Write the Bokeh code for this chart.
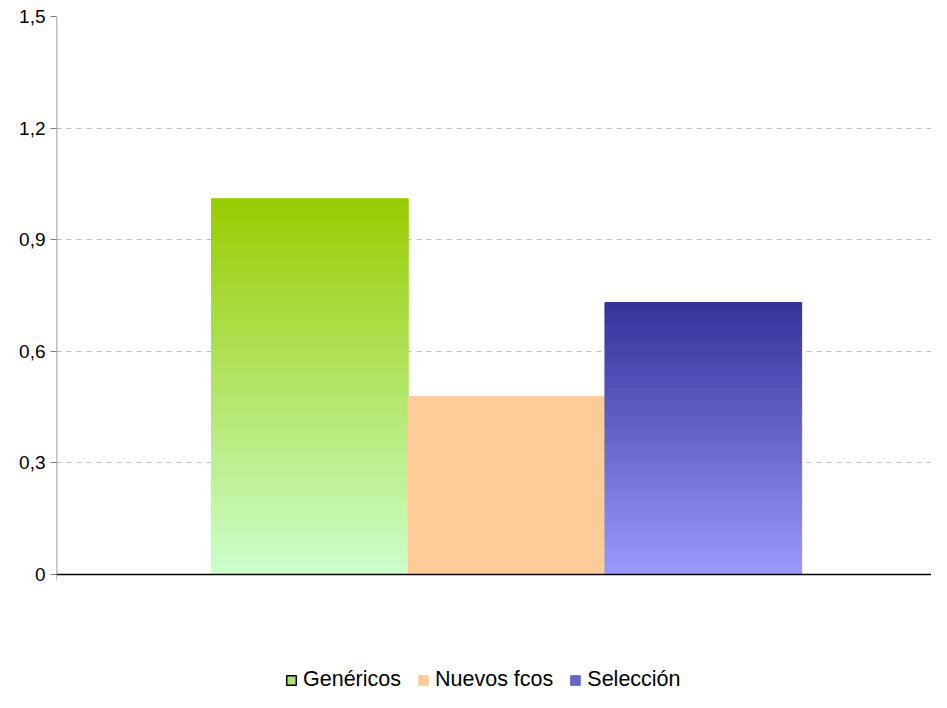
from bokeh.plotting import figure
from bokeh.models import (Range1d, FixedTicker, CustomJSTickFormatter, Legend, LegendItem,
                          ColumnDataSource)
from bokeh.embed import file_html
from bokeh.resources import INLINE

# ---- data ----
categories = ["Genéricos", "Nuevos fcos", "Selección"]
values = [1.01, 0.478, 0.731]
top_colors = ["#99CC00", "#FFCC99", "#333399"]
bottom_colors = ["#CCFFCC", "#FFCC99", "#9999FF"]
legend_swatch = ["#B0E070", "#FFCC99", "#6666CC"]
legend_lines = ["#000000", None, None]
y_ticks = [0, 0.3, 0.6, 0.9, 1.2, 1.5]
y_max = 1.5

# ---- layout (pixels) ----
W, H = 931, 692
top_px, zero_px = 16, 574          # where y_max and 0 sit
px_per_unit = (zero_px - top_px) / y_max
y_min = -(H - zero_px) / px_per_unit   # frame extends down to hold the legend
x_start, x_end = -2.288, 2.16

p = figure(width=W, height=H, output_backend="svg", toolbar_location=None,
           x_range=Range1d(x_start, x_end), y_range=Range1d(y_min, y_max),
           min_border_left=56, min_border_right=0, min_border_top=top_px, min_border_bottom=0)
p.outline_line_color = None
p.background_fill_color = "white"
p.border_fill_color = "white"

def hex2rgb(h):
    h = h.lstrip("#")
    return tuple(int(h[i:i + 2], 16) for i in (0, 2, 4))

def rgb2hex(c):
    return "#%02x%02x%02x" % tuple(int(round(v)) for v in c)

N = 80
L, R, B, T, C = [], [], [], [], []
for i, (v, ct, cb) in enumerate(zip(values, top_colors, bottom_colors)):
    center = i - 1
    a, b = hex2rgb(ct), hex2rgb(cb)
    for k in range(N):
        y0 = v * k / N
        y1 = v * (k + 1) / N
        t = (k + 0.5) / N  # 0 bottom -> 1 top
        col = tuple(b[j] + (a[j] - b[j]) * t for j in range(3))
        L.append(center - 0.5)
        R.append(center + 0.5)
        B.append(y0)
        T.append(y1)
        C.append(rgb2hex(col))

src = ColumnDataSource(dict(left=L, right=R, bottom=B, top=T, color=C))
p.quad(left="left", right="right", bottom="bottom", top="top", source=src,
       fill_color="color", line_color="color", line_width=1)

# y axis (line drawn separately so it stops at 0)
p.yaxis.ticker = FixedTicker(ticks=y_ticks)
p.yaxis.formatter = CustomJSTickFormatter(code="return tick == 0 ? '0' : tick.toFixed(1).replace('.', ',');")
p.yaxis.major_label_text_font = "Liberation Sans"
p.yaxis.major_label_text_font_size = "19px"
p.yaxis.major_label_text_color = "#000000"
p.yaxis.axis_line_color = None
p.yaxis.major_tick_line_color = "#808080"
p.yaxis.major_tick_out = 6
p.yaxis.major_tick_in = 0
p.yaxis.minor_tick_line_color = None
p.yaxis.major_label_standoff = 5
p.segment(x0=[x_start], y0=[0], x1=[x_start], y1=[y_max], line_color="#808080", line_width=1.5)
p.segment(x0=[x_start], y0=[0], x1=[x_start], y1=[-6 / px_per_unit], line_color="#808080", line_width=1)

p.xaxis.visible = False
p.segment(x0=[x_start], y0=[0], x1=[x_end], y1=[0], line_color="#000000", line_width=1.5)

p.xgrid.grid_line_color = None
p.ygrid.ticker = FixedTicker(ticks=y_ticks[1:])
p.ygrid.grid_line_color = "#BFBFBF"
p.ygrid.grid_line_dash = "5 5"
p.ygrid.grid_line_width = 1

# legend with dummy renderers (NaN data -> nothing drawn in the plot)
nan = float("nan")
items = []
for name, fc, lc in zip(categories, legend_swatch, legend_lines):
    r = p.quad(left=[nan], right=[nan], bottom=[nan], top=[nan], fill_color=fc,
               line_color=lc if lc else fc, line_width=1.5 if lc else 1)
    items.append(LegendItem(label=name, renderers=[r]))

legend = Legend(items=items, orientation="horizontal", location=(229, 0),
                label_text_font="Liberation Sans", label_text_font_size="21.5px",
                label_text_color="#000000",
                glyph_width=12, glyph_height=12, label_standoff=6, spacing=16,
                border_line_color=None, background_fill_alpha=0,
                padding=0, margin=0)
p.add_layout(legend, "center")

open("out.html", "w").write(file_html(p, INLINE))
